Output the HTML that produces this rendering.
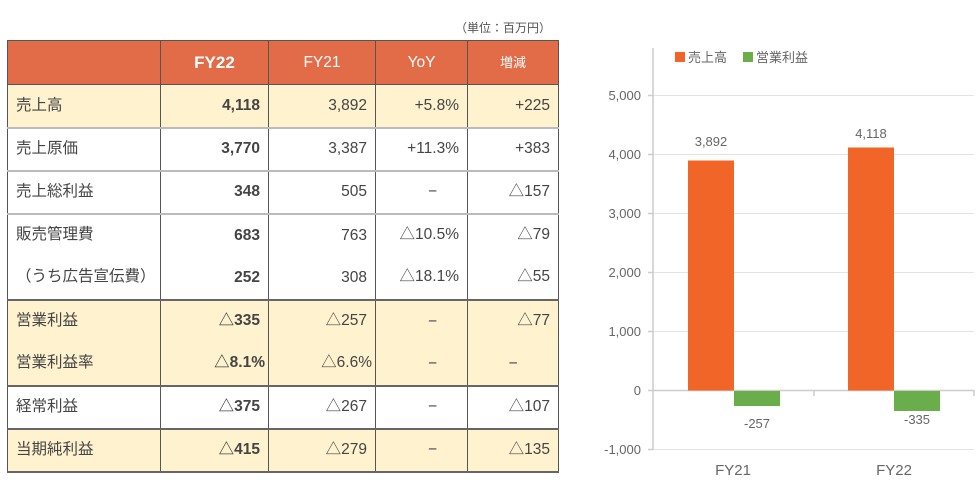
<!DOCTYPE html>
<html><head><meta charset="utf-8"><style>
body{margin:0;width:978px;height:500px;background:#fff;font-family:"Liberation Sans","Noto Sans CJK JP",sans-serif;color:#444;position:relative;overflow:hidden}
.unit{position:absolute;left:455px;top:19px;font-size:12px;color:#555}
table{position:absolute;left:7px;top:40px;width:551px;border-collapse:collapse;table-layout:fixed}
td{height:43px;padding:0 8px;font-size:15.5px;line-height:18px;vertical-align:middle;text-align:right;box-sizing:border-box;white-space:nowrap;overflow:hidden}
td:first-child{text-align:left;padding-left:8px}
td span{display:inline-block;line-height:18px;height:18px;vertical-align:middle}
tr.h td{background:#E26C48;color:#fff;text-align:center;height:44px;border:1.5px solid #555}
tr.h td:nth-child(4),tr.h td:nth-child(5){border-left:1px solid #aaa}
.b{background:#FFF2CF}
td{border-left:1.5px solid #555;border-right:1.5px solid #555}
td:nth-child(4),td:nth-child(5){border-left:1px solid #aaa}
tr.t td{border-top:2px solid #bbb}
tr.g td{border-top:none}
tr.d td{border-top:2px solid #666}
tr:last-child td{border-bottom:2px solid #666}
.bold{font-weight:bold}
.c{text-align:center!important;padding-left:30px}
</style></head><body>
<div class="unit">（単位：百万円）</div>
<table>
<colgroup><col style="width:153px"><col style="width:108px"><col style="width:107px"><col style="width:92px"><col style="width:91px"></colgroup>
<tr class="h"><td></td><td style="font-weight:bold;font-size:17px">FY22</td><td>FY21</td><td>YoY</td><td style="font-size:13px">増減</td></tr>
<tr class="b"><td><span>売上高</span></td><td class="bold">4,118</td><td>3,892</td><td>+5.8%</td><td>+225</td></tr>
<tr class="t"><td><span>売上原価</span></td><td class="bold">3,770</td><td>3,387</td><td>+11.3%</td><td>+383</td></tr>
<tr class="t"><td><span>売上総利益</span></td><td class="bold">348</td><td>505</td><td class="c">−</td><td><span>△157</span></td></tr>
<tr class="t"><td><span>販売管理費</span></td><td class="bold">683</td><td>763</td><td><span>△10.5%</span></td><td><span>△79</span></td></tr>
<tr class="g"><td><span>（うち広告宣伝費）</span></td><td class="bold">252</td><td>308</td><td><span>△18.1%</span></td><td><span>△55</span></td></tr>
<tr class="b d"><td><span>営業利益</span></td><td class="bold"><span>△335</span></td><td><span>△257</span></td><td class="c">−</td><td><span>△77</span></td></tr>
<tr class="b g"><td><span>営業利益率</span></td><td class="bold" style="padding-right:3px"><span>△8.1%</span></td><td style="padding-right:3px"><span>△6.6%</span></td><td class="c">−</td><td style="text-align:center">−</td></tr>
<tr class="d"><td><span>経常利益</span></td><td class="bold"><span>△375</span></td><td><span>△267</span></td><td class="c">−</td><td><span>△107</span></td></tr>
<tr class="b d"><td><span>当期純利益</span></td><td class="bold"><span>△415</span></td><td><span>△279</span></td><td class="c">−</td><td><span>△135</span></td></tr>
</table>
<svg style="position:absolute;left:0;top:0" width="978" height="500">
<g stroke="#e3e3e3" stroke-width="1">
<line x1="653" x2="974" y1="95.5" y2="95.5"/><line x1="653" x2="974" y1="154.5" y2="154.5"/><line x1="653" x2="974" y1="213.5" y2="213.5"/><line x1="653" x2="974" y1="272.5" y2="272.5"/><line x1="653" x2="974" y1="331.5" y2="331.5"/><line x1="653" x2="974" y1="449.5" y2="449.5"/>
</g>
<g stroke="#ccc" stroke-width="1.5">
<line x1="653" x2="653" y1="48" y2="450"/><line x1="653" x2="974" y1="390.5" y2="390.5"/>
<line x1="648" x2="653" y1="95.5" y2="95.5"/><line x1="648" x2="653" y1="154.5" y2="154.5"/><line x1="648" x2="653" y1="213.5" y2="213.5"/><line x1="648" x2="653" y1="272.5" y2="272.5"/><line x1="648" x2="653" y1="331.5" y2="331.5"/><line x1="648" x2="653" y1="390.5" y2="390.5"/><line x1="648" x2="653" y1="449.5" y2="449.5"/>
<line x1="814" x2="814" y1="390" y2="396"/><line x1="974" x2="974" y1="390" y2="396"/>
</g>
<rect x="688" y="160.5" width="46" height="230" fill="#F26529"/>
<rect x="848" y="147.5" width="46" height="243" fill="#F26529"/>
<rect x="734" y="391" width="46" height="15" fill="#6AAD4B"/>
<rect x="894" y="391" width="46" height="20" fill="#6AAD4B"/>
<rect x="675" y="52" width="10" height="10" fill="#F26529"/>
<rect x="743" y="52" width="10" height="10" fill="#6AAD4B"/>
<g font-family="Liberation Sans,Noto Sans CJK JP,sans-serif" font-size="13" fill="#666">
<text x="688" y="62">売上高</text><text x="756" y="62">営業利益</text>
<g text-anchor="end"><text x="641" y="100">5,000</text><text x="641" y="159">4,000</text><text x="641" y="218">3,000</text><text x="641" y="277">2,000</text><text x="641" y="336">1,000</text><text x="641" y="395">0</text><text x="641" y="454">-1,000</text></g>
<g text-anchor="middle"><text x="711" y="146">3,892</text><text x="871" y="138">4,118</text><text x="757" y="428">-257</text><text x="917" y="424">-335</text>
<text x="733" y="475" font-size="15">FY21</text><text x="894" y="475" font-size="15">FY22</text></g>
</g>
</svg>
</body></html>
